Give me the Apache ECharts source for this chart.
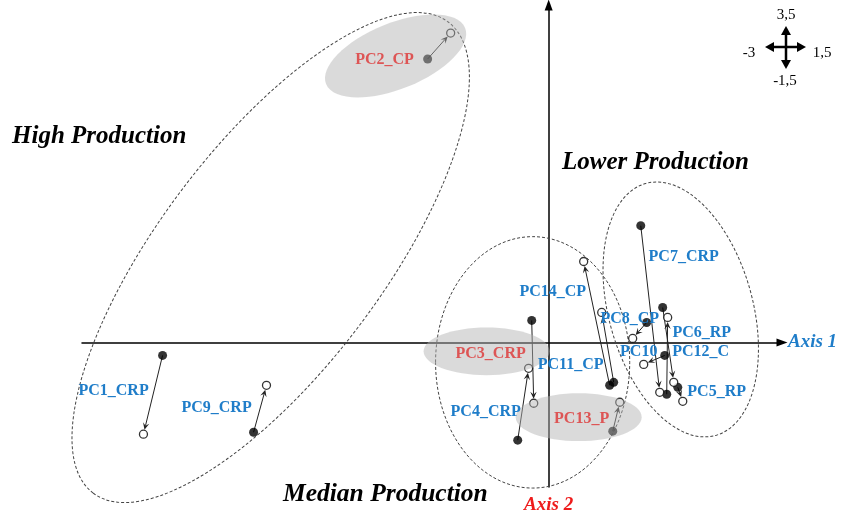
<!DOCTYPE html>
<html><head><meta charset="utf-8">
<script src="https://cdn.jsdelivr.net/npm/echarts@6/dist/echarts.min.js"></script>
<style>html,body{margin:0;padding:0;background:#fff}#c{width:842px;height:515px}</style>
</head><body><div id="c"></div>
<script>
// ---- data (axis units) ----
const names = ['PC1_CRP','PC2_CP','PC3_CRP','PC4_CRP','PC5_RP','PC6_RP','PC7_CRP','PC8_CP','PC9_CRP','PC10','PC11_CP','PC12_C','PC13_P','PC14_CP'];
const startX = [-2.482,-0.778,-0.109,-0.199,0.830,0.733,0.592,0.630,-1.897,0.746,0.418,0.759,0.412,0.392];
const startY = [-0.135, 2.940, 0.228,-1.014,-0.466,0.362,1.211,0.207,-0.932,-0.135,-0.414,-0.538,-0.921,-0.445];
const endX   = [-2.605,-0.630,-0.096,-0.129,0.862,0.804,0.714,0.540,-1.814,0.611,0.341,0.765,0.457,0.225];
const endY   = [-0.952, 3.209,-0.631,-0.269,-0.611,-0.414,-0.518,0.041,-0.445,-0.228,0.311,0.259,-0.621,0.839];
const labelX = [-2.797,-1.055,-0.373,-0.405,1.080,0.984,0.868,0.521,-2.135,0.579,0.141,0.977,0.212,0.026];
const labelY = [-0.507, 2.930,-0.124,-0.725,-0.518,0.104,0.890,0.248,-0.683,-0.093,-0.228,-0.093,-0.797,0.528];
const highlighted = ['PC2_CP','PC3_CRP','PC13_P'];
// production groups (dashed ellipses): centre, semi-axes (x-units, y-units), tilt deg
const groupNames = ['High Production','Median Production','Lower Production'];
const groupCx = [-1.787,-0.103,0.849];
const groupCy = [0.880,-0.207,0.342];
const groupRx = [1.896,0.624,0.463];
const groupRy = [1.159,1.304,1.356];
const groupTilt = [53,0,15.5];
// highlighted zones (grey ellipses)
const zoneCx = [-0.984,-0.399,0.193];
const zoneCy = [2.971,-0.093,-0.776];
const zoneRx = [0.482,0.405,0.405];
const zoneRy = [0.342,0.248,0.248];
const zoneTilt = [22,0,0];
const axisMin = {x:-3, y:-1.5}, axisMax = {x:1.5, y:3.5};

const SERIF = '"Liberation Serif","Times New Roman",serif';
const BLUE = '#1f7dc9', RED = '#dd5555';

function ellipseRender(style){
  return function(params, api){
    const c = api.coord([api.value(0), api.value(1)]);
    const s = api.size([api.value(2), api.value(3)]);
    return {type:'ellipse', x:c[0], y:c[1], rotation: api.value(4)*Math.PI/180,
      shape:{cx:0, cy:0, rx:s[0], ry:s[1]}, style: style};
  };
}
function arrowRender(params, api){
  const p0 = api.coord([api.value(0), api.value(1)]);
  const p1 = api.coord([api.value(2), api.value(3)]);
  const dx = p1[0]-p0[0], dy = p1[1]-p0[1], L = Math.hypot(dx,dy);
  const ux = dx/L, uy = dy/L, r = 4.5, hl = 7, hw = 3.2;
  const tip = [p1[0]-ux*r, p1[1]-uy*r];
  const back = [tip[0]-ux*hl, tip[1]-uy*hl];
  const notch = [tip[0]-ux*hl*0.6, tip[1]-uy*hl*0.6];
  const left = [back[0]-uy*hw, back[1]+ux*hw], right = [back[0]+uy*hw, back[1]-ux*hw];
  return {type:'group', children:[
    {type:'line', shape:{x1:p0[0], y1:p0[1], x2:notch[0], y2:notch[1]}, style:{stroke:'#222', lineWidth:1}},
    {type:'polygon', shape:{points:[tip,left,notch,right]}, style:{fill:'#222'}}
  ]};
}
function labelRender(params, api){
  const c = api.coord([api.value(0), api.value(1)]);
  const n = names[params.dataIndex];
  return {type:'text', x:c[0], y:c[1], style:{text:n, fill: highlighted.includes(n)?RED:BLUE,
    font:'bold 16px '+SERIF, align:'center', verticalAlign:'middle'}};
}

const chart = echarts.init(document.getElementById('c'), null, {renderer:'canvas'});
const crossStroke = {stroke:'#000', lineWidth:2.5};
chart.setOption({
  animation:false,
  backgroundColor:'#fff',
  grid:{left:82, right:60, top:5, bottom:27},
  xAxis:{type:'value', min:axisMin.x, max:axisMax.x, splitLine:{show:false}, axisTick:{show:false}, axisLabel:{show:false},
    axisLine:{onZero:true, symbol:['none','triangle'], symbolSize:[8,11], lineStyle:{color:'#000', width:1.5}},
    name:'Axis 1', nameLocation:'end', nameGap:6,
    nameTextStyle:{color:BLUE, fontFamily:SERIF, fontStyle:'italic', fontWeight:'bold', fontSize:19}},
  yAxis:{type:'value', min:axisMin.y, max:axisMax.y, splitLine:{show:false}, axisTick:{show:false}, axisLabel:{show:false},
    axisLine:{onZero:true, symbol:['none','triangle'], symbolSize:[8,11], lineStyle:{color:'#000', width:1.5}},
    name:'Axis 2', nameLocation:'start', nameGap:9,
    nameTextStyle:{color:'#ee1c1c', fontFamily:SERIF, fontStyle:'italic', fontWeight:'bold', fontSize:19}},
  graphic:[
    {type:'text', left:12, top:124, style:{text:'High Production', font:'italic bold 25px '+SERIF, fill:'#000'}},
    {type:'text', left:562, top:150, style:{text:'Lower Production', font:'italic bold 25px '+SERIF, fill:'#000'}},
    {type:'text', left:283, top:481, style:{text:'Median Production', font:'italic bold 25.5px '+SERIF, fill:'#000'}},
    {type:'line', shape:{x1:770, y1:47, x2:801, y2:47}, style:crossStroke},
    {type:'line', shape:{x1:786, y1:31, x2:786, y2:64}, style:crossStroke},
    {type:'polygon', shape:{points:[[765,47],[774,42],[774,52]]}, style:{fill:'#000'}},
    {type:'polygon', shape:{points:[[806,47],[797,42],[797,52]]}, style:{fill:'#000'}},
    {type:'polygon', shape:{points:[[786,26],[781,35],[791,35]]}, style:{fill:'#000'}},
    {type:'polygon', shape:{points:[[786,69],[781,60],[791,60]]}, style:{fill:'#000'}},
    {type:'text', x:786, y:15, style:{text:'3,5', font:'15px '+SERIF, fill:'#000', align:'center', verticalAlign:'middle'}},
    {type:'text', x:749, y:53, style:{text:'-3', font:'15px '+SERIF, fill:'#000', align:'center', verticalAlign:'middle'}},
    {type:'text', x:822, y:53, style:{text:'1,5', font:'15px '+SERIF, fill:'#000', align:'center', verticalAlign:'middle'}},
    {type:'text', x:785, y:81, style:{text:'-1,5', font:'15px '+SERIF, fill:'#000', align:'center', verticalAlign:'middle'}}
  ],
  series:[
    {type:'custom', name:'groups', clip:false, z:1, silent:true,
      renderItem: ellipseRender({fill:'none', stroke:'#444', lineWidth:1, lineDash:[3,2]}),
      encode:{x:0, y:1},
      data: groupNames.map((n,i)=>({name:n, value:[groupCx[i], groupCy[i], groupRx[i], groupRy[i], groupTilt[i]]}))},
    {type:'custom', name:'shifts', clip:false, z:2, renderItem: arrowRender,
      encode:{x:[0,2], y:[1,3]},
      data: names.map((n,i)=>({name:n, value:[startX[i], startY[i], endX[i], endY[i]]}))},
    {type:'scatter', name:'start', z:3, symbol:'circle', symbolSize:9, itemStyle:{color:'#000'},
      data: names.map((n,i)=>({name:n, value:[startX[i], startY[i]]}))},
    {type:'scatter', name:'end', z:3, symbol:'circle', symbolSize:8, itemStyle:{color:'#fff', borderColor:'#000', borderWidth:1.3},
      data: names.map((n,i)=>({name:n, value:[endX[i], endY[i]]}))},
    {type:'custom', name:'zones', clip:false, z:4, silent:true,
      renderItem: ellipseRender({fill:'rgba(177,177,177,0.48)'}),
      encode:{x:0, y:1},
      data: highlighted.map((n,i)=>({name:n, value:[zoneCx[i], zoneCy[i], zoneRx[i], zoneRy[i], zoneTilt[i]]}))},
    {type:'custom', name:'labels', clip:false, z:5, renderItem: labelRender,
      encode:{x:0, y:1},
      data: names.map((n,i)=>({name:n, value:[labelX[i], labelY[i]]}))}
  ]
});
</script></body></html>
